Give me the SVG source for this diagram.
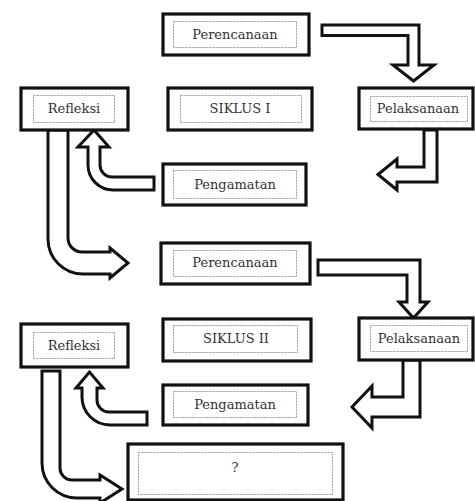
<svg xmlns="http://www.w3.org/2000/svg" width="475" height="501" viewBox="0 0 475 501">
<style>
.box{fill:#fff;stroke:#111;stroke-width:3.2}
.inner{fill:none;stroke:#9a9a9a;stroke-width:1;stroke-dasharray:2 1}
.arrow{fill:#fff;stroke:#111;stroke-width:3;stroke-linejoin:miter}
text{font-family:"DejaVu Serif","Liberation Serif",serif;font-size:13px;fill:#333;text-anchor:middle}
</style>
<rect width="475" height="501" fill="#fff"/>
<g id="connectors">
<path class="arrow" d="M322,25 H419 V65 H434 L413.5,81 L393,65 H408 V35.5 H322 Z"/>
<path class="arrow" d="M424,130 V167 H397 V159 L378,174.5 L397,190 V182 H437 V130 Z"/>
<path class="arrow" d="M154,177 H112 A12,12 0 0 1 100,165 V147 H109 L94,130 L78,147 H88 V165 A25,25 0 0 0 113,190 H154 Z"/>
<path class="arrow" d="M48,130 V239 A35,35 0 0 0 83,274 H110 V278 L128,263 L110,248 V252 H82 A14,14 0 0 1 68,238 V130 Z"/>
<path class="arrow" d="M318,260 H420 V302 H428 L413.5,318 L399,302 H407 V275 H318 Z"/>
<path class="arrow" d="M403,360 V397 H372 V386 L352,407 L372,428 V417 H420 V360 Z"/>
<path class="arrow" d="M147,412 H109 A12,12 0 0 1 97,400 V388 H103 L89.5,372 L76,388 H82 V397 A28,28 0 0 0 110,425 H147 Z"/>
<path class="arrow" d="M42,371 V463 A35,35 0 0 0 77,498 H100 V503 L122,489 L100,475 V480 H72 A12,12 0 0 1 60,468 V371 Z"/>
</g>
<g id="perencanaan1"><rect class="box" x="163" y="14" width="146" height="41"/><rect class="inner" x="173.5" y="21.5" width="123" height="26"/><text x="235" y="38.5">Perencanaan</text></g>
<g id="refleksi1"><rect class="box" x="21" y="88" width="107" height="42"/><rect class="inner" x="33.5" y="95.5" width="81" height="27"/><text x="74" y="113">Refleksi</text></g>
<g id="siklus1"><rect class="box" x="168" y="88" width="144" height="42"/><rect class="inner" x="180.5" y="95.5" width="121" height="27"/><text x="240" y="113">SIKLUS I</text></g>
<g id="pelaksanaan1"><rect class="box" x="359" y="88" width="114" height="41"/><rect class="inner" x="370.5" y="96.5" width="97" height="25"/><text x="418" y="113">Pelaksanaan</text></g>
<g id="pengamatan1"><rect class="box" x="163" y="164" width="143" height="41"/><rect class="inner" x="173.5" y="170.5" width="123" height="28"/><text x="235" y="189">Pengamatan</text></g>
<g id="perencanaan2"><rect class="box" x="161" y="243" width="149" height="41"/><rect class="inner" x="173.5" y="250.5" width="123" height="26"/><text x="235" y="267">Perencanaan</text></g>
<g id="siklus2"><rect class="box" x="163" y="319" width="148" height="42"/><rect class="inner" x="173.5" y="325.5" width="124" height="27"/><text x="236" y="343">SIKLUS II</text></g>
<g id="pelaksanaan2"><rect class="box" x="359" y="318" width="114" height="42"/><rect class="inner" x="370.5" y="325.5" width="97" height="26"/><text x="419" y="343">Pelaksanaan</text></g>
<g id="refleksi2"><rect class="box" x="21" y="324" width="107" height="43"/><rect class="inner" x="33.5" y="332.5" width="81" height="26"/><text x="74" y="350">Refleksi</text></g>
<g id="pengamatan2"><rect class="box" x="163" y="385" width="145" height="40"/><rect class="inner" x="173.5" y="391.5" width="123" height="26"/><text x="235" y="409">Pengamatan</text></g>
<g id="question"><rect class="box" x="128" y="444" width="215" height="56"/><rect class="inner" x="138.5" y="452.5" width="194" height="42"/><text x="235" y="472">?</text></g>
</svg>
